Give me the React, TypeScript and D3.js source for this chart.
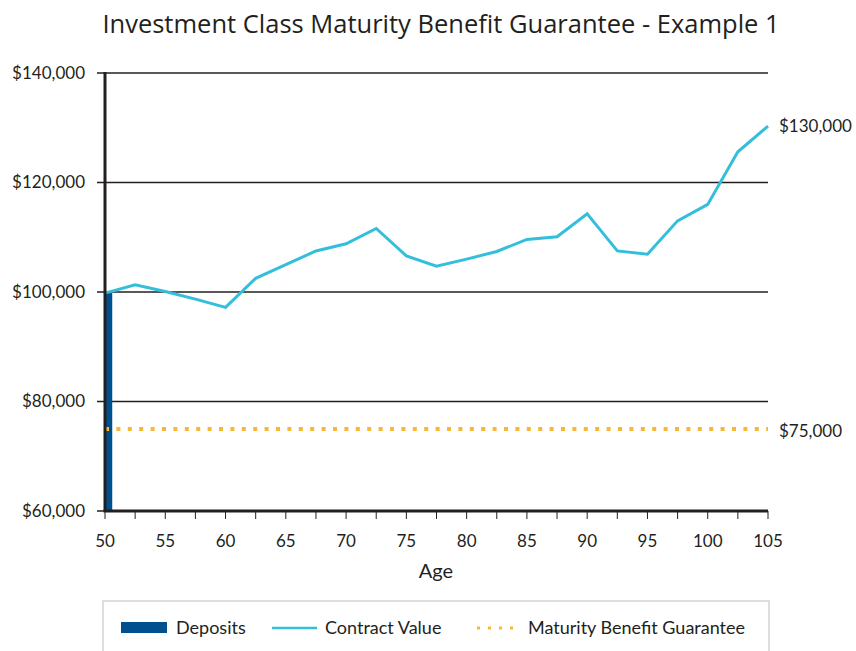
import React from 'react';
import * as d3 from 'd3';

// chart data
const ages = [50, 52.5, 55, 57.5, 60, 62.5, 65, 67.5, 70, 72.5, 75, 77.5, 80, 82.5, 85, 87.5, 90, 92.5, 95, 97.5, 100, 102.5, 105];
const contractValues = [99800, 101300, 100100, 98700, 97200, 102500, 105000, 107500, 108800, 111600, 106600, 104700, 106000, 107400, 109600, 110100, 114300, 107500, 106900, 113000, 116000, 125600, 130300];
const depositAges = [50];
const depositValues = [100000];
const guaranteeValue = 75000;
const xTickLabels = [50, 55, 60, 65, 70, 75, 80, 85, 90, 95, 100, 105];
const yTickLabels = [60000, 80000, 100000, 120000, 140000];
const endLabels = ['$130,000', '$75,000'];

const W = 856;
const H = 651;
const margin = { top: 73, right: 88, bottom: 140, left: 105 };

const INK = '#231f20';
const CYAN = '#33bfdc';
const NAVY = '#00508f';
const GOLD = '#fbb733';
const FONT = 'Lato, sans-serif';

export default function App() {
    const x = d3.scaleLinear().domain([50, 105]).range([margin.left, W - margin.right]);
    const y = d3.scaleLinear().domain([60000, 140000]).range([H - margin.bottom, margin.top]);

    const line = d3.line<number>()
        .x((d, i) => x(ages[i]))
        .y(d => y(d));

    const fmt = d3.format('$,');
    const minorTicks = d3.range(50, 105.01, 2.5);
    const barWidth = x(50.6) - x(50);
    const x0 = x(50);
    const x1 = x(105);
    const yBase = y(60000);

    return (
        <svg width={W} height={H} style={{ position: 'absolute', left: 0, top: 0, background: '#fff' }}>
            <text x={441} y={33} textAnchor="middle" fontFamily="'Open Sans', sans-serif" fontSize={25.5} fill={INK}>
                Investment Class Maturity Benefit Guarantee - Example 1
            </text>

            {/* grid lines + y ticks */}
            {yTickLabels.map(v => (
                <g key={v}>
                    <line x1={x0 - 8} x2={x1} y1={y(v)} y2={y(v)} stroke={INK} strokeWidth={1.3} />
                    <text x={85} y={y(v)} dy="0.35em" textAnchor="end" fontFamily={FONT} fontSize={17} fill={INK}>{fmt(v)}</text>
                </g>
            ))}

            {/* deposits */}
            {depositAges.map((a, i) => (
                <rect key={a} x={x(a)} y={y(depositValues[i])} width={barWidth} height={yBase - y(depositValues[i])} fill={NAVY} />
            ))}

            {/* guarantee */}
            <line x1={x0} x2={x1} y1={y(guaranteeValue)} y2={y(guaranteeValue)} stroke={GOLD} strokeWidth={4} strokeDasharray="4 7.4" />

            {/* contract value */}
            <path d={line(contractValues) || ''} fill="none" stroke={CYAN} strokeWidth={3} strokeLinejoin="miter" />

            {/* axes */}
            <line x1={x0} x2={x0} y1={margin.top - 1} y2={yBase} stroke={INK} strokeWidth={3} />
            <line x1={x0 - 1.5} x2={x1} y1={yBase} y2={yBase} stroke={INK} strokeWidth={3} />
            {minorTicks.map(t => (
                <line key={t} x1={x(t)} x2={x(t)} y1={yBase} y2={yBase + 8} stroke={INK} strokeWidth={1} />
            ))}
            {xTickLabels.map(t => (
                <text key={t} x={x(t)} y={541} dy="0.35em" textAnchor="middle" fontFamily={FONT} fontSize={17} fill={INK}>{t}</text>
            ))}
            <text x={436} y={571} dy="0.35em" textAnchor="middle" fontFamily={FONT} fontSize={20} fill={INK}>Age</text>

            {/* end labels */}
            <text x={779} y={y(contractValues[contractValues.length - 1])} dy="0.35em" fontFamily={FONT} fontSize={17} fill={INK}>{endLabels[0]}</text>
            <text x={779} y={y(guaranteeValue)} dy="0.45em" fontFamily={FONT} fontSize={17} fill={INK}>{endLabels[1]}</text>

            {/* legend */}
            <rect x={103} y={601} width={666} height={60} fill="none" stroke="#c8c8c8" strokeWidth={1.2} />
            <rect x={121} y={622} width={46} height={11} fill={NAVY} />
            <text x={176} y={628} dy="0.35em" fontFamily={FONT} fontSize={18} fill={INK}>Deposits</text>
            <line x1={272} x2={317} y1={628} y2={628} stroke={CYAN} strokeWidth={2.5} />
            <text x={325} y={628} dy="0.35em" fontFamily={FONT} fontSize={18} fill={INK}>Contract Value</text>
            <line x1={477} x2={518} y1={628} y2={628} stroke={GOLD} strokeWidth={3} strokeDasharray="3 8" />
            <text x={528} y={628} dy="0.35em" fontFamily={FONT} fontSize={18} fill={INK}>Maturity Benefit Guarantee</text>
        </svg>
    );
}
